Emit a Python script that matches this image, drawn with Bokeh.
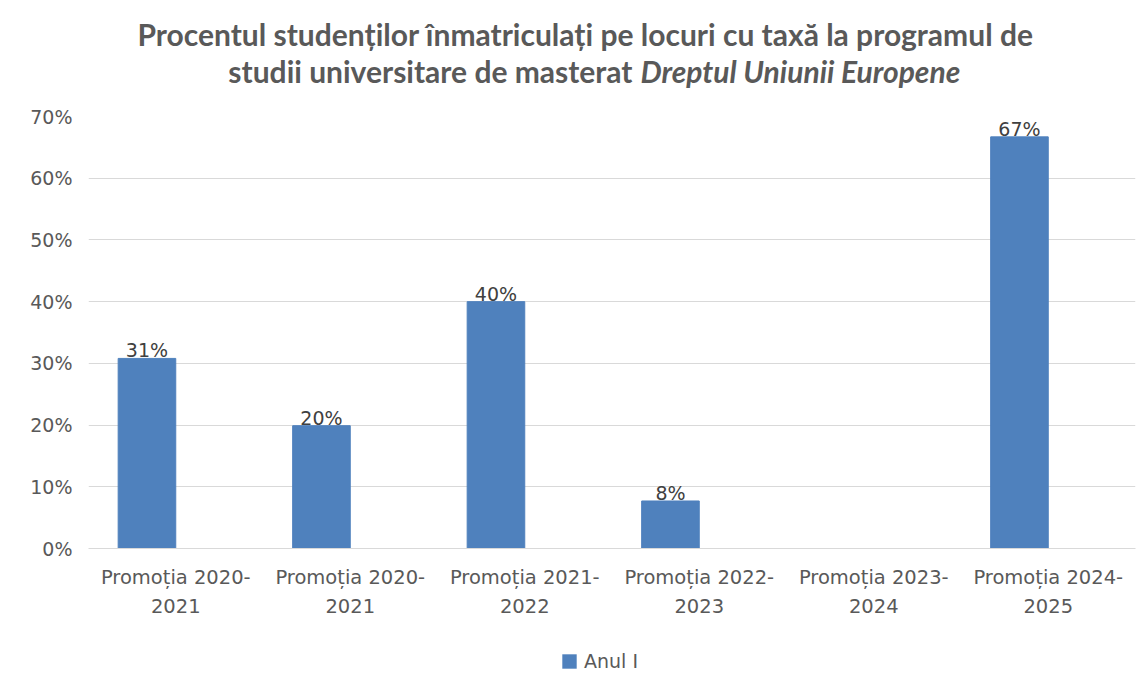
from bokeh.plotting import figure
from bokeh.layouts import column
from bokeh.models import (ColumnDataSource, FixedTicker, Legend, LegendItem, Range1d)
from bokeh.core.properties import value
from bokeh.embed import file_html
from bokeh.resources import INLINE

categories = ["Promoția 2020-\n2021", "Promoția 2020-\n2021", "Promoția 2021-\n2022",
              "Promoția 2022-\n2023", "Promoția 2023-\n2024", "Promoția 2024-\n2025"]
values = [30.8, 19.9, 40.0, 7.7, 0.0, 66.7]
value_labels = ["31%", "20%", "40%", "8%", "", "67%"]
series_name = "Anul I"
y_ticks = [0, 10, 20, 30, 40, 50, 60, 70]
title_line1 = "Procentul studenților înmatriculați pe locuri cu taxă la programul de"
title_line2a = "studii universitare de masterat"
title_line2b = "Dreptul Uniunii Europene"

BAR = "#4f81bd"
GRID = "#d9d9d9"
TXT = "#595959"
FONT = "DejaVu Sans"
TFONT = "Lato"
W = 1145
FL, FR = 88, 1135  # frame edges in page pixels (shared by all rows)


def bare(fig):
    fig.axis.visible = False
    fig.grid.visible = False
    fig.outline_line_color = None


# ---- title figure (page pixel coordinates) ----
t = figure(width=W, height=100, output_backend="svg", toolbar_location=None,
           x_range=Range1d(FL, FR), y_range=Range1d(0, 100),
           min_border_left=FL, min_border_right=W - FR, min_border_top=0, min_border_bottom=0)
bare(t)
t.text(x=[585], y=[67], text=[title_line1], text_align="center", text_baseline="middle",
       text_font=value(TFONT), text_font_style="bold", text_font_size="30px", text_color=TXT)
t.text(x=[632], y=[30], text=[title_line2a], text_align="right", text_baseline="middle",
       text_font=value(TFONT), text_font_style="bold", text_font_size="30px", text_color=TXT)
t.text(x=[640], y=[30], text=[title_line2b], text_align="left", text_baseline="middle",
       text_font=value(TFONT), text_font_style="bold italic", text_font_size="30px", text_color=TXT)

# ---- main chart ----
n = len(categories)
centers = [i + 0.5 for i in range(n)]
bar_x = [c - 0.165 for c in centers]
src = ColumnDataSource(dict(x=bar_x, top=values, lab=value_labels))

p = figure(width=W, height=530, output_backend="svg", toolbar_location=None,
           x_range=Range1d(0, n), y_range=Range1d(0, 70),
           min_border_left=FL, min_border_right=W - FR, min_border_top=16, min_border_bottom=82)
p.outline_line_color = None

r = p.vbar(x="x", top="top", width=0.33, source=src, fill_color=BAR, line_color=BAR)
p.text(x="x", y="top", text="lab", source=src, text_align="center", text_baseline="bottom",
       text_font=value(FONT), text_font_size="19px", text_color="#404040", y_offset=3)

p.xaxis.ticker = FixedTicker(ticks=centers)
p.xaxis.major_label_overrides = {c: lab for c, lab in zip(centers, categories)}
p.xaxis.major_tick_line_color = None
p.xaxis.minor_tick_line_color = None
p.xaxis.axis_line_color = GRID
p.xaxis.axis_line_width = 1
p.xaxis.major_label_text_font = FONT
p.xaxis.major_label_text_font_size = "19.5px"
p.xaxis.major_label_text_color = TXT
p.xaxis.major_label_text_line_height = 1.27
p.xaxis.major_label_standoff = 11

p.yaxis.ticker = FixedTicker(ticks=y_ticks)
p.yaxis.major_label_overrides = {t_: f"{t_}%" for t_ in y_ticks}
p.yaxis.major_tick_line_color = None
p.yaxis.minor_tick_line_color = None
p.yaxis.axis_line_color = None
p.yaxis.major_label_text_font = FONT
p.yaxis.major_label_text_font_size = "19px"
p.yaxis.major_label_text_color = TXT
p.yaxis.major_label_standoff = 10

p.xgrid.grid_line_color = None
p.ygrid.grid_line_color = GRID
p.ygrid.grid_line_width = 1

# ---- legend figure ----
lg = figure(width=W, height=60, output_backend="svg", toolbar_location=None,
            x_range=Range1d(0, 1), y_range=Range1d(0, 1),
            min_border_left=FL, min_border_right=W - FR, min_border_top=0, min_border_bottom=0)
bare(lg)
lr = lg.vbar(x=[0.5], bottom=[-3], top=[-2], width=0.1, fill_color=BAR, line_color=None)
legend = Legend(items=[LegendItem(label=series_name, renderers=[lr])], location=(472, 18),
                orientation="horizontal", padding=0, margin=0, border_line_color=None,
                background_fill_alpha=0, label_text_font=FONT, label_text_font_size="19px",
                label_text_color=TXT, glyph_width=18, glyph_height=18, label_standoff=6,
                label_height=18)
lg.add_layout(legend)

layout = column(t, p, lg, spacing=0)
open("out.html", "w").write(file_html(layout, INLINE))
